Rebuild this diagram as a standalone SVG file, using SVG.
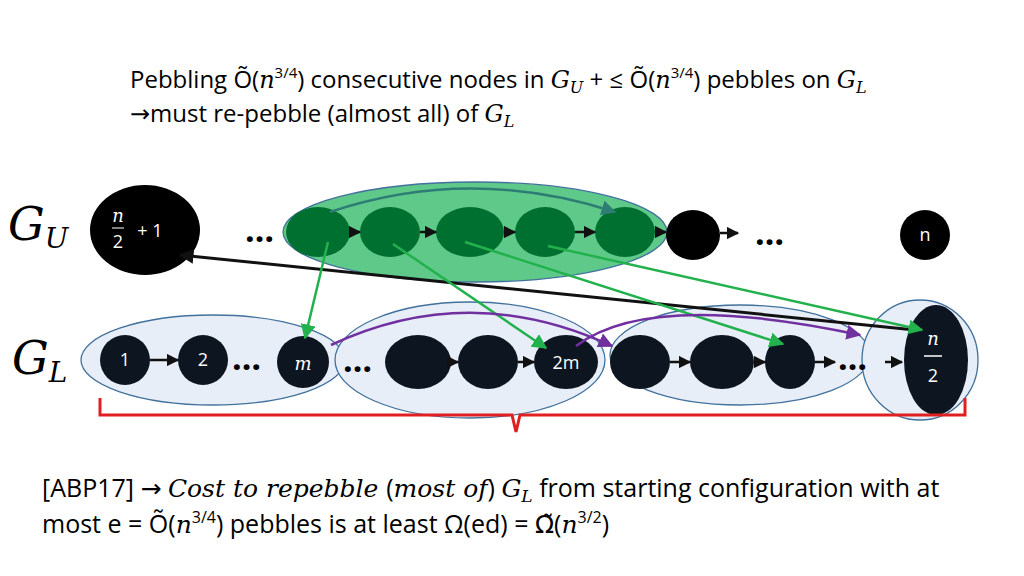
<svg xmlns="http://www.w3.org/2000/svg" width="1024" height="576" viewBox="0 0 1024 576">
<defs>
<marker id="ab" viewBox="0 0 10 10" refX="9" refY="5" markerWidth="5" markerHeight="5" orient="auto"><path d="M0,0L10,5L0,10z" fill="#111"/></marker>
<marker id="ag" viewBox="0 0 10 10" refX="9" refY="5" markerWidth="6" markerHeight="6" orient="auto"><path d="M0,0L10,5L0,10z" fill="#22b14c"/></marker>
<marker id="ap" viewBox="0 0 10 10" refX="9" refY="5" markerWidth="6" markerHeight="6" orient="auto"><path d="M0,0L10,5L0,10z" fill="#7030a0"/></marker>
<marker id="at" viewBox="0 0 10 10" refX="9" refY="5" markerWidth="6" markerHeight="6" orient="auto"><path d="M0,0L10,5L0,10z" fill="#2e7d74"/></marker>
</defs>
<style>
text{font-family:"Open Sans","Liberation Sans",Arial,sans-serif;fill:#000}
.m{font-family:"DejaVu Serif","Liberation Serif",serif;font-style:italic}
.ar{font-family:"DejaVu Sans",sans-serif}
.t{font-size:24px}
.b{fill:#0d1520}
.g{fill:#007030}
.grp{fill:#e8eef7;stroke:#41719c;stroke-width:1.3}
.w{fill:#fff;font-size:18px;text-anchor:middle}
.dots{font-size:34px;font-weight:bold}
.e{stroke-width:2.5;fill:none}
</style>
<rect width="1024" height="576" fill="#fff"/>
<text class="t" x="130" y="88">Pebbling Õ(<tspan class="m">n</tspan><tspan font-size="15" dy="-10">3/4</tspan><tspan dy="10">) consecutive nodes in </tspan><tspan class="m">G<tspan font-size="16" dy="5">U</tspan></tspan><tspan dy="-5"> + ≤ Õ(</tspan><tspan class="m">n</tspan><tspan font-size="15" dy="-10">3/4</tspan><tspan dy="10">) pebbles on </tspan><tspan class="m">G<tspan font-size="16" dy="5">L</tspan></tspan></text>
<text class="t" x="130" y="122"><tspan class="ar">→</tspan>must re-pebble (almost all) of <tspan class="m">G<tspan font-size="16" dy="5">L</tspan></tspan></text>
<text class="m" x="8" y="240" font-size="46">G<tspan font-size="28" dy="8">U</tspan></text>
<text class="m" x="12" y="374" font-size="46">G<tspan font-size="28" dy="8">L</tspan></text>
<g id="groups">
<ellipse class="grp" cx="213" cy="360" rx="132" ry="45"/>
<ellipse class="grp" cx="470" cy="360" rx="135" ry="58"/>
<ellipse class="grp" cx="740" cy="355" rx="130" ry="50"/>
<ellipse class="grp" cx="920" cy="360" rx="58" ry="60"/>
<ellipse cx="475" cy="232" rx="192" ry="50" fill="#5fc98a" stroke="#41719c" stroke-width="1.3"/>
</g>
<g id="nodes">
<g id="u0"><ellipse fill="#000" cx="145" cy="230" rx="55" ry="45"/><text class="w m" x="118" y="222" font-size="16">n</text><line x1="112" y1="228" x2="124" y2="228" stroke="#fff"/><text class="w" x="118" y="248" font-size="16">2</text><text class="w" x="150" y="237">+ 1</text></g>
<text class="dots" x="245" y="242">…</text>
<ellipse class="g" cx="318" cy="232" rx="32" ry="25"/>
<ellipse class="g" cx="390" cy="232" rx="30" ry="25"/>
<ellipse class="g" cx="470" cy="232" rx="34" ry="25"/>
<ellipse class="g" cx="545" cy="232" rx="30" ry="25"/>
<ellipse class="g" cx="625" cy="232" rx="30" ry="25"/>
<ellipse fill="#000" cx="693" cy="235" rx="27" ry="25"/>
<text class="dots" x="755" y="245">…</text>
<g id="un"><circle fill="#000" cx="925" cy="235" r="25"/><text class="w" x="925" y="241" font-size="16">n</text></g>
<g id="l1"><circle class="b" cx="125" cy="360" r="25"/><text class="w" x="125" y="366">1</text></g>
<g id="l2"><circle class="b" cx="203" cy="360" r="25"/><text class="w" x="203" y="366">2</text></g>
<text class="dots" x="232" y="370">…</text>
<g id="lm"><circle class="b" cx="303" cy="362" r="26"/><text class="w m" x="303" y="370" font-size="20">m</text></g>
<text class="dots" x="343" y="372">…</text>
<ellipse class="b" cx="418" cy="362" rx="33" ry="27"/>
<ellipse class="b" cx="488" cy="362" rx="30" ry="27"/>
<g id="l2m"><ellipse class="b" cx="566" cy="362" rx="32" ry="27"/><text class="w" x="566" y="369">2m</text></g>
<ellipse class="b" cx="640" cy="362" rx="30" ry="27"/>
<ellipse class="b" cx="722" cy="362" rx="32" ry="27"/>
<ellipse class="b" cx="790" cy="362" rx="25" ry="27"/>
<text class="dots" x="838" y="370">…</text>
<g id="ln2"><ellipse class="b" cx="936" cy="360" rx="32" ry="55"/><text class="w m" x="933" y="345" font-size="18">n</text><line x1="924" y1="356" x2="942" y2="356" stroke="#fff" stroke-width="1.5"/><text class="w" x="933" y="382" font-size="18">2</text></g>
</g>
<g id="connectors">
<g stroke="#111" stroke-width="2.5" marker-end="url(#ab)">
<line x1="350" y1="232" x2="360" y2="232"/><line x1="420" y1="232" x2="436" y2="232"/><line x1="504" y1="232" x2="515" y2="232"/><line x1="575" y1="232" x2="595" y2="232"/><line x1="655" y1="232" x2="666" y2="232"/>
<line x1="720" y1="233" x2="738" y2="233"/>
<line x1="150" y1="360" x2="178" y2="360"/>
<line x1="451" y1="362" x2="458" y2="362"/><line x1="518" y1="362" x2="534" y2="362"/><line x1="670" y1="362" x2="690" y2="362"/><line x1="754" y1="362" x2="765" y2="362"/><line x1="815" y1="362" x2="835" y2="362"/><line x1="885" y1="362" x2="902" y2="362"/>
<line x1="915" y1="330" x2="180" y2="255" stroke-width="3"/>
</g>
<path class="e" d="M330,212 Q470,165 615,212" stroke="#2e7d74" stroke-width="3.5" marker-end="url(#at)"/>
<g stroke="#22b14c" class="e" marker-end="url(#ag)">
<line x1="328" y1="242" x2="305" y2="338"/>
<line x1="393" y1="244" x2="546" y2="348"/>
<line x1="465" y1="242" x2="783" y2="344"/>
<line x1="548" y1="246" x2="922" y2="330"/>
</g>
<g stroke="#7030a0" class="e" stroke-width="3" marker-end="url(#ap)">
<path d="M331,345 Q470,280 612,346"/>
<path d="M576,346 Q650,290 860,335"/>
</g>
<path d="M100,398 L100,415 L512,415 L516,432 L520,415 L965,415 L965,398" fill="none" stroke="#e02020" stroke-width="3"/>
</g>
<text x="42" y="497" font-size="25">[ABP17] <tspan class="ar">→</tspan> <tspan class="m">Cost to repebble </tspan>(<tspan class="m">most of</tspan>) <tspan class="m">G<tspan font-size="17" dy="5">L</tspan></tspan><tspan dy="-5"> from starting configuration with at</tspan></text>
<text x="42" y="533" font-size="25">most e = Õ(<tspan class="m">n</tspan><tspan font-size="16" dy="-10">3/4</tspan><tspan dy="10">) pebbles is at least Ω(ed) = </tspan><tspan class="ar">Ω̃</tspan>(<tspan class="m">n</tspan><tspan font-size="16" dy="-10">3/2</tspan><tspan dy="10">)</tspan></text>
</svg>
